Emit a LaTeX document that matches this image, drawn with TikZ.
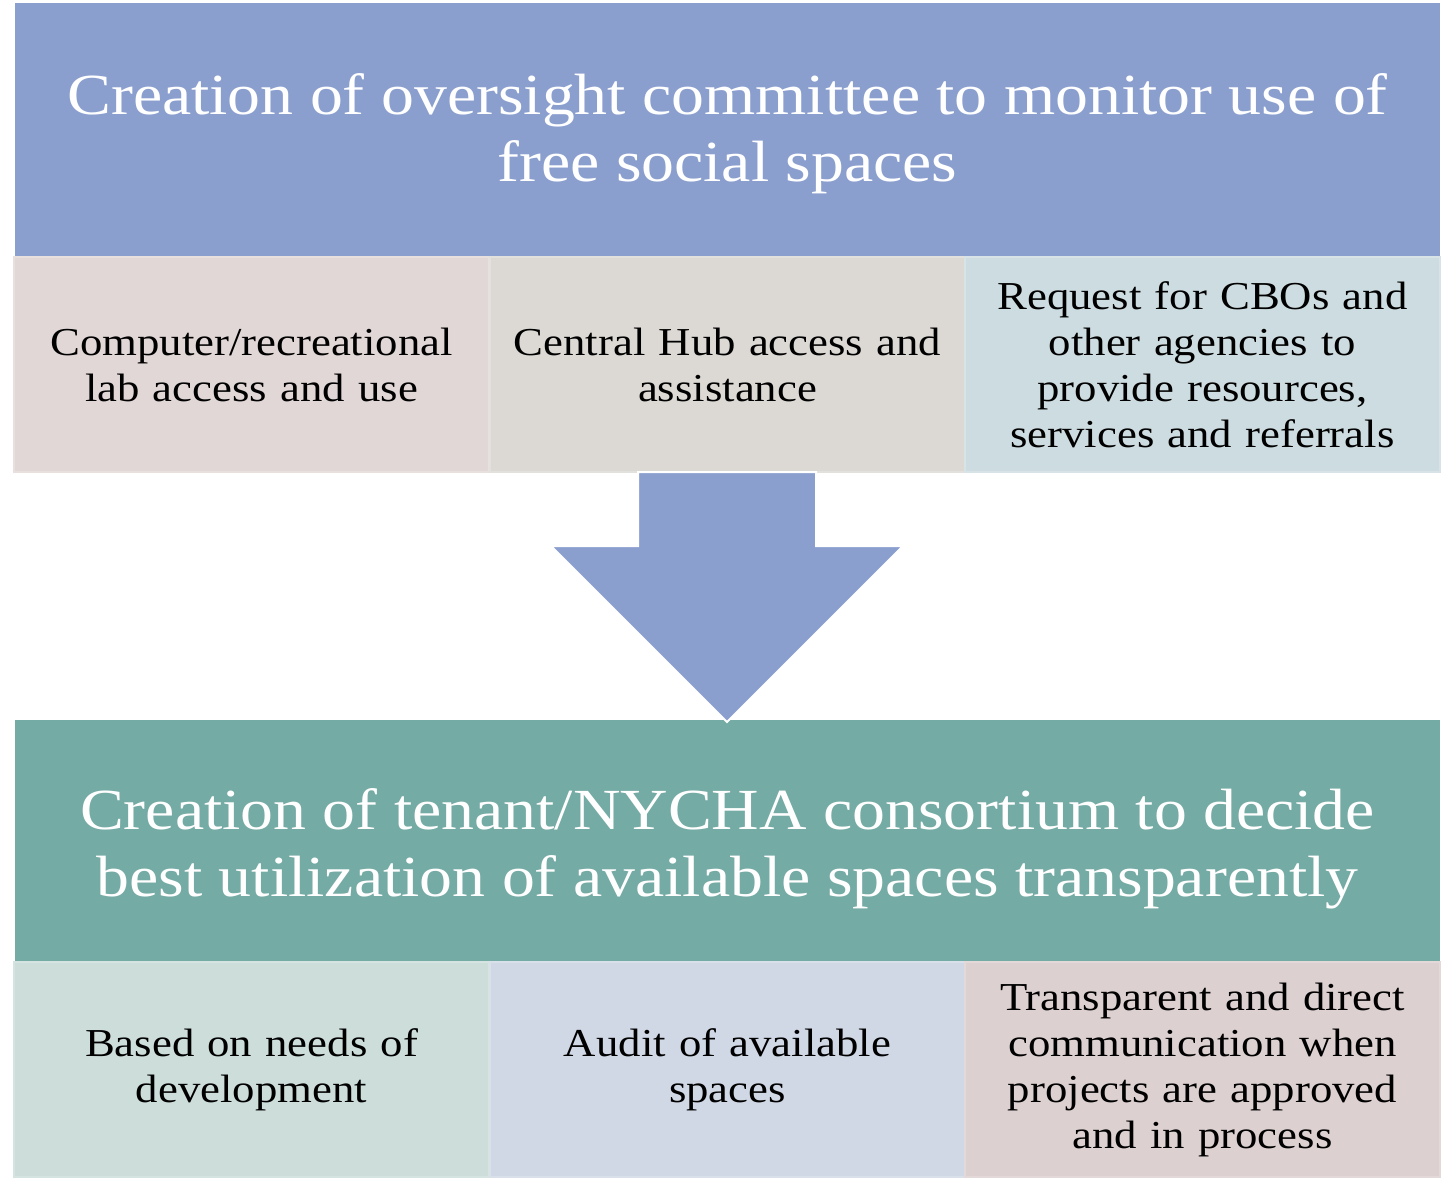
\documentclass[tikz,border=0pt]{standalone}
\usepackage{fontspec}
\setmainfont[FakeStretch=1.13]{Liberation Serif}
\begin{document}
\begin{tikzpicture}[x=0.5pt,y=-0.5pt,
  title/.style={text=white,align=center,font=\fontsize{29.1}{33.5}\selectfont,inner sep=0pt},
  cell/.style={draw=#1!80!white,line width=1pt,fill=#1,minimum width=237.5pt,minimum height=107.5pt,
    text width=232pt,align=center,font=\fontsize{19.8}{23}\selectfont,inner sep=0pt,text=black},
]
\definecolor{hdrblue}{HTML}{8B9FCF}
\definecolor{hdrteal}{HTML}{75ABA5}
\definecolor{cpink}{HTML}{E2D7D7}
\definecolor{cgray}{HTML}{DCD9D4}
\definecolor{cblue}{HTML}{CDDCE0}
\definecolor{cgreen}{HTML}{CCDDDA}
\definecolor{clav}{HTML}{D1D8E5}
\definecolor{crose}{HTML}{DDD0D0}
\useasboundingbox (0,0) rectangle (1450,1179);

% top header
\fill[hdrblue] (15,3) rectangle (1440,256);
\node[title] (top) at (727.5,134)
  {Creation of oversight committee to monitor use of\\free social spaces};

% first row of cells
\node[cell=cpink] (c1) at (251.5,364.5) {Computer/recreational\\lab access and use};
\node[cell=cgray] (c2) at (727.5,364.5) {Central Hub access and\\assistance};
\node[cell=cblue] (c3) at (1202.5,364.5) {Request for CBOs and\\other agencies to\\provide resources,\\services and referrals};

% bottom header
\fill[hdrteal] (15,720) rectangle (1440,961);
\node[title] (bot) at (727.5,849)
  {Creation of tenant/NYCHA consortium to decide\\best utilization of available spaces transparently};

% arrow between the two blocks
\fill[hdrblue,draw=white,line width=1pt,line join=miter]
  (638,472) -- (816,472) -- (816,546) -- (903,546) -- (727,722) -- (551,546) -- (638,546) -- cycle;

% second row of cells
\node[cell=cgreen] (d1) at (251.5,1069.5) {Based on needs of\\development};
\node[cell=clav] (d2) at (727.5,1069.5) {Audit of available\\spaces};
\node[cell=crose] (d3) at (1202.5,1069.5) {Transparent and direct\\communication when\\projects are approved\\and in process};
\end{tikzpicture}
\end{document}
